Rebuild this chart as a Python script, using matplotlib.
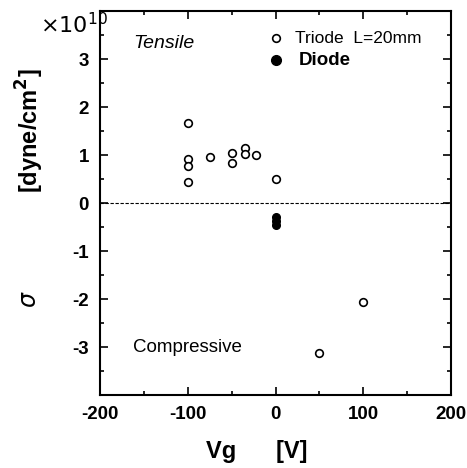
import matplotlib
matplotlib.use("Agg")
import matplotlib.pyplot as plt
from matplotlib.ticker import MultipleLocator

plt.rcParams['font.family'] = ['Liberation Sans', 'DejaVu Sans']
plt.rcParams['axes.unicode_minus'] = False

# triode, L=20mm (open circles)
triode_vg = [-100, -100, -100, -100, -75, -50, -50, -35, -35, -22, 0, 50, 100]
triode_s = [1.68, 0.92, 0.77, 0.45, 0.97, 1.05, 0.83, 1.15, 1.02, 1.0, 0.5, -3.13, -2.07]

# diode (filled circles)
diode_vg = [0, 0, 0]
diode_s = [-0.28, -0.38, -0.45]

fig = plt.figure(figsize=(4.67, 4.68), dpi=100)
ax = fig.add_axes([0.214, 0.156, 0.752, 0.82])

ax.plot(triode_vg, triode_s, 'o', mfc='white', mec='black', mew=1.2, ms=5.5)
ax.plot(diode_vg, diode_s, 'o', mfc='black', mec='black', ms=5.5)
ax.axhline(0, color='black', lw=0.8, ls=(0, (3, 1.5)))

ax.set_xlim(-200, 200)
ax.set_ylim(-4, 4)
ax.set_xticks([-200, -100, 0, 100, 200])
ax.set_yticks([-3, -2, -1, 0, 1, 2, 3])
ax.xaxis.set_minor_locator(MultipleLocator(50))
ax.yaxis.set_minor_locator(MultipleLocator(0.5))
ax.tick_params(which='both', direction='in', top=True, right=True, width=1.2)
ax.tick_params(which='major', length=6, labelsize=13.5, pad=8)
ax.tick_params(which='minor', length=3)
for lab in ax.get_xticklabels() + ax.get_yticklabels():
    lab.set_fontweight('bold')
for sp in ax.spines.values():
    sp.set_linewidth(1.5)

# legend drawn by hand
ax.plot([0], [3.44], 'o', mfc='white', mec='black', mew=1.2, ms=5.5)
ax.text(22, 3.44, 'Triode  L=20mm', fontsize=12.5, va='center')
ax.plot([0], [2.98], 'o', mfc='black', mec='black', ms=7)
ax.text(26, 2.98, 'Diode', fontsize=13.5, va='center', fontweight='bold')

ax.text(-162, 3.33, 'Tensile', fontsize=14, style='italic', va='center')
ax.text(-162, -3.02, 'Compressive', fontsize=13.5, va='center')

fig.text(0.085, 0.945, r'$\times 10^{10}$', fontsize=16, va='center', ha='left')
fig.text(0.065, 0.72, r'[dyne/cm$^\mathbf{2}$]', fontsize=17, fontweight='bold',
         rotation=90, ha='center', va='center')
fig.text(0.065, 0.36, r'$\sigma$', fontsize=17, rotation=90, ha='center', va='center')
fig.text(0.55, 0.035, 'Vg      [V]', fontsize=17, fontweight='bold', ha='center', va='center')

fig.savefig('out.png', dpi=100)
